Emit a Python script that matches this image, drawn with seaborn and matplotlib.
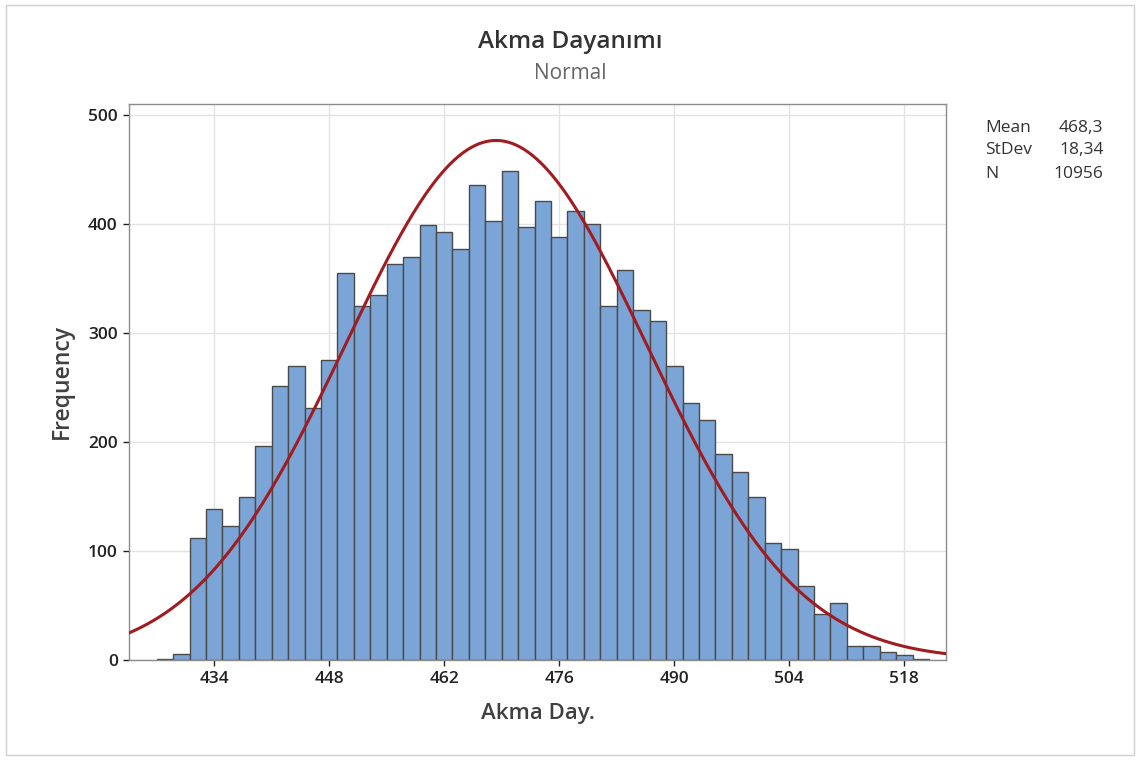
import numpy as np
import pandas as pd
import matplotlib
matplotlib.use("Agg")
import matplotlib.pyplot as plt
import seaborn as sns

# Data
bin_centers = [428, 430, 432, 434, 436, 438, 440, 442, 444, 446, 448, 450, 452, 454,
               456, 458, 460, 462, 464, 466, 468, 470, 472, 474, 476, 478, 480, 482,
               484, 486, 488, 490, 492, 494, 496, 498, 500, 502, 504, 506, 508, 510,
               512, 514, 516, 518, 520]
counts = [1, 5, 112, 138, 123, 149, 196, 251, 270, 231, 275, 355, 325, 335,
          363, 370, 399, 393, 377, 436, 403, 449, 397, 421, 388, 412, 400, 325,
          358, 321, 311, 270, 236, 220, 189, 172, 149, 107, 102, 68, 42, 52,
          13, 13, 7, 4, 1]
bin_width = 2
mean_val = 468.3
sd_val = 18.34
n_val = 10956
x_ticks = [434, 448, 462, 476, 490, 504, 518]
y_ticks = [0, 100, 200, 300, 400, 500]
stat_labels = ["Mean", "StDev", "N"]
stat_values = ["468,3", "18,34", "10956"]

sns.set_theme(style="white")
plt.rcParams["font.family"] = ["Open Sans", "DejaVu Sans"]

df = pd.DataFrame({"x": bin_centers, "w": counts})
lo = min(bin_centers) - bin_width / 2
hi = max(bin_centers) + bin_width / 2

fig = plt.figure(figsize=(11.4, 7.6), dpi=100)
ax = fig.add_axes([0.113, 0.132, 0.717, 0.731])

ax.grid(True, color="#e3e3e3", linewidth=1.0, zorder=0)
ax.set_axisbelow(True)

sns.histplot(data=df, x="x", weights="w", binwidth=bin_width, binrange=(lo, hi), ax=ax,
             color="#7ba5d7", edgecolor="#4a4a4a", linewidth=1.0, alpha=1.0, zorder=2)

xs = np.linspace(423.6, 523.1, 400)
ys = n_val * bin_width / (sd_val * np.sqrt(2 * np.pi)) * np.exp(-0.5 * ((xs - mean_val) / sd_val) ** 2)
sns.lineplot(x=xs, y=ys, ax=ax, color="#a01c20", linewidth=2.2, zorder=3)

ax.set_xlim(423.6, 523.1)
ax.set_ylim(0, 510)
ax.set_xticks(x_ticks)
ax.set_yticks(y_ticks)
ax.tick_params(axis="both", labelsize=12.5, colors="#222222", length=4, width=1, direction="out",
               bottom=True, left=True, pad=4)
for lab in ax.get_xticklabels() + ax.get_yticklabels():
    lab.set_fontweight("semibold")
    lab.set_color("#222222")
for s in ax.spines.values():
    s.set_color("#8c8c8c")
    s.set_linewidth(1.0)

ax.set_xlabel("Akma Day.", fontsize=16, color="#404040", fontweight="semibold", labelpad=12)
ax.set_ylabel("Frequency", fontsize=16.5, color="#404040", fontweight="semibold", labelpad=10)

fig.text(0.5, 0.945, "Akma Dayanımı", ha="center", va="center", fontsize=17.5,
         color="#333333", fontweight="semibold")
fig.text(0.5, 0.903, "Normal", ha="center", va="center", fontsize=15, color="#666666")

ys_txt = [0.832, 0.802, 0.771]
for lab, val, yy in zip(stat_labels, stat_values, ys_txt):
    fig.text(0.864, yy, lab, ha="left", va="center", fontsize=12.5, color="#333333")
    fig.text(0.968, yy, val, ha="right", va="center", fontsize=12.5, color="#333333")

# outer border
fig.patches.append(plt.Rectangle((0.005, 0.006), 0.99, 0.988, transform=fig.transFigure,
                                 fill=False, edgecolor="#cfcfcf", linewidth=1.0))

fig.savefig("out.png", dpi=100)
